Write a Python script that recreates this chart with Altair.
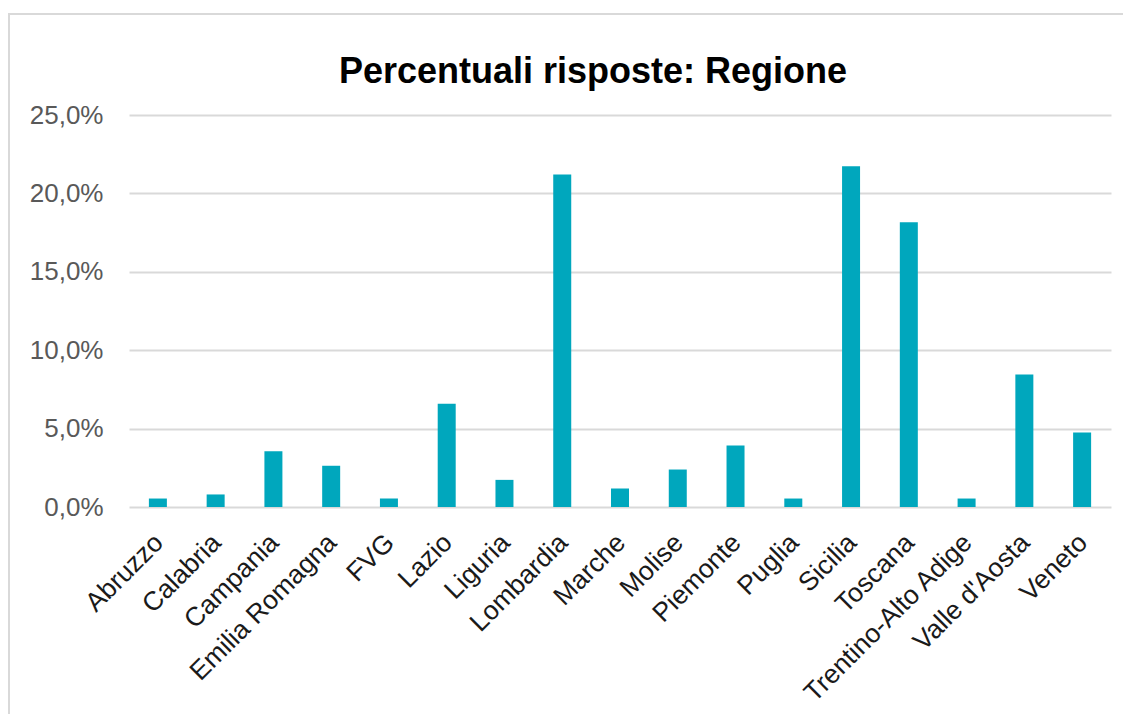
import altair as alt
import pandas as pd

regions = ["Abruzzo", "Calabria", "Campania", "Emilia Romagna", "FVG", "Lazio",
           "Liguria", "Lombardia", "Marche", "Molise", "Piemonte", "Puglia",
           "Sicilia", "Toscana", "Trentino-Alto Adige", "Valle d'Aosta", "Veneto"]
percent = [0.54, 0.80, 3.56, 2.63, 0.54, 6.58, 1.73, 21.2, 1.18, 2.39, 3.92,
           0.54, 21.73, 18.16, 0.54, 8.45, 4.75]
y_ticks = [0, 0.05, 0.10, 0.15, 0.20, 0.25]
title_text = "Percentuali risposte: Regione"

df = pd.DataFrame({"regione": regions, "valore": [p / 100 for p in percent]})

bars = alt.Chart(df).mark_bar(size=18, color="#00A7BD").encode(
    x=alt.X("regione:N", sort=regions, title=None,
            scale=alt.Scale(paddingInner=0.0, paddingOuter=0.0),
            axis=alt.Axis(labelAngle=-45, labelAlign="right", labelBaseline="top",
                          labelPadding=22, labelOffset=-8, labelFontSize=26.5,
                          labelColor="#1a1a1a",
                          labelFont="Liberation Sans", domain=False, ticks=False,
                          grid=False, labelOverlap=False, labelLimit=400)),
    y=alt.Y("valore:Q", title=None,
            scale=alt.Scale(domain=[0, 0.25], nice=False),
            axis=alt.Axis(values=y_ticks,
                          labelExpr="replace(format(datum.value, '.1%'), '.', ',')",
                          labelFontSize=26, labelColor="#595959", labelFont="Liberation Sans",
                          labelPadding=26, domain=False, ticks=False,
                          gridColor="#d9d9d9", gridWidth=2)),
)

border = alt.Chart(pd.DataFrame({"b": [0]})).mark_rect(
    filled=False, stroke="#d9d9d9", strokeWidth=2
).encode(
    x=alt.value(-120), x2=alt.value(1010), y=alt.value(-101), y2=alt.value(620)
)

title = alt.Chart(pd.DataFrame({"t": [title_text]})).mark_text(
    font="Liberation Sans", fontSize=36, fontWeight="bold", color="#000000",
    align="center", baseline="alphabetic"
).encode(text="t:N", x=alt.value(464), y=alt.value(-32))

chart = alt.layer(bars, border, title).properties(
    width=982, height=392,
    padding={"left": 121, "top": 107, "right": 12, "bottom": 207},
    autosize=alt.AutoSizeParams(type="none"),
).configure_view(stroke=None)

chart.save("out.html", embed_options={"renderer": "svg", "actions": False})
